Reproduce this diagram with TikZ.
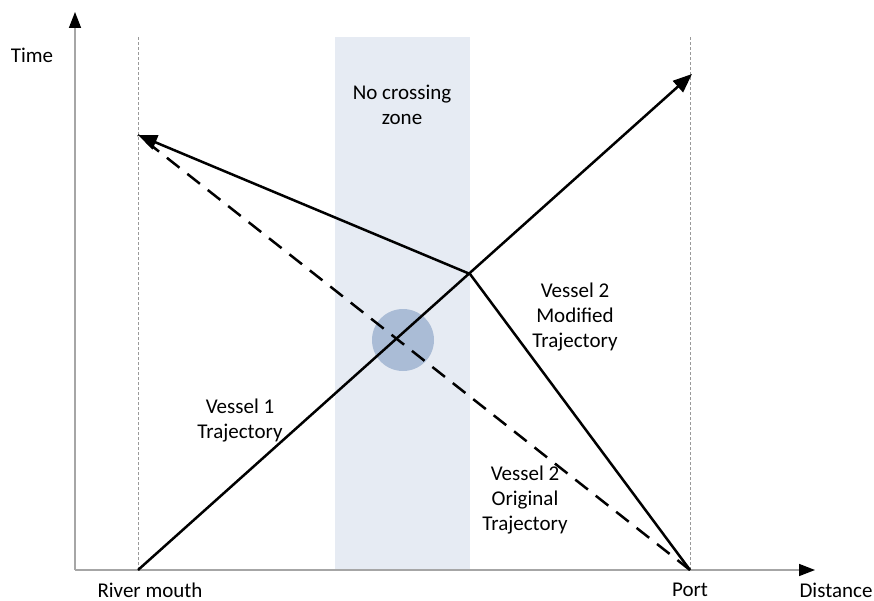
\documentclass[tikz,border=0pt]{standalone}
\usepackage{fontspec}
\setmainfont{Carlito}
\usetikzlibrary{arrows.meta}
\definecolor{zonefill}{RGB}{230,235,243}
\definecolor{spotfill}{RGB}{170,188,214}

\begin{document}
\begin{tikzpicture}[x=1pt,y=-1pt,
    every node/.style={font=\fontsize{21}{25}\selectfont,align=center,inner sep=1pt},
    axis/.style={draw=gray!70,line width=1.6pt,-{Triangle[length=16pt,width=12pt,color=black]}},
    guide/.style={draw=gray!80,line width=1pt,dash pattern=on 3pt off 2pt},
    traj/.style={draw=black,line width=2.5pt,-{Triangle[length=19pt,width=15pt]}},
    plain/.style={draw=black,line width=2.5pt}]
\useasboundingbox (0,0) rectangle (874,601);

% no crossing zone
\fill[zonefill] (335,37) rectangle (470,570);
\node (zone) at (402,105) {No crossing\\zone};

% axes
\coordinate (o) at (75,570);
\coordinate (ytip) at (75,12);
\coordinate (xtip) at (815,570);
\draw[axis] (o) -- (ytip);
\draw[axis] (o) -- (xtip);
\node (time) at (32,55) {Time};
\node (dist) at (836,590) {Distance};

% river mouth and port
\coordinate (mouth) at (138,570);
\coordinate (mouthtop) at (138,37);
\coordinate (port) at (690,570);
\coordinate (porttop) at (690,37);
\draw[guide] (mouth) -- (mouthtop);
\draw[guide] (port) -- (porttop);
\node (mouthlbl) at (150,590) {River mouth};
\node (portlbl) at (690,590) {Port};

% conflict spot
\fill[spotfill] (403,340) circle (31);

% trajectories
\coordinate (v1end) at (692,74);
\coordinate (bend) at (470,274);
\coordinate (v2end) at (138,135);
\draw[plain,dash pattern=on 16pt off 10pt] (port) -- (v2end);
\draw[traj] (mouth) -- (v1end);
\draw[plain] (port) -- (bend);
\draw[traj] (bend) -- (v2end);

\node (v1lbl) at (240,421) {Vessel 1\\Trajectory};
\node (v2mod) at (575,317) {Vessel 2\\Modified\\Trajectory};
\node (v2org) at (525,500) {Vessel 2\\Original\\Trajectory};
\end{tikzpicture}
\end{document}
